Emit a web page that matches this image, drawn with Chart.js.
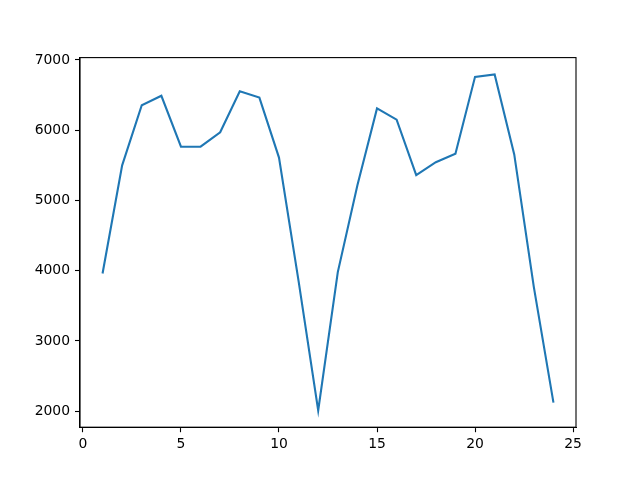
<!DOCTYPE html>
<html>
<head>
<meta charset="utf-8">
<script src="https://cdn.jsdelivr.net/npm/chart.js@4/dist/chart.umd.min.js"></script>
<style>
  html, body { margin: 0; padding: 0; background: #fff; }
</style>
</head>
<body>
<canvas id="chart" width="640" height="480"></canvas>
<script>
// values
const xValues = [1, 2, 3, 4, 5, 6, 7, 8, 9, 10, 11, 12, 13, 14, 15, 16, 17, 18, 19, 20, 21, 22, 23, 24];
const yValues = [3960, 5500, 6355, 6490, 5765, 5765, 5970, 6555, 6465, 5610, 3850, 2010,
                 3980, 5215, 6310, 6150, 5360, 5545, 5665, 6760, 6795, 5655, 3765, 2120];
const xTicks = [0, 5, 10, 15, 20, 25];
const yTicks = [2000, 3000, 4000, 5000, 6000, 7000];

const points = xValues.map((x, i) => ({ x: x, y: yValues[i] }));

// matplotlib-like full frame around the axes
const frame = {
    id: "frame",
    afterDraw(chart) {
        const a = chart.chartArea;
        const ctx = chart.ctx;
        ctx.save();
        ctx.strokeStyle = "#000";
        ctx.lineWidth = 1.1;
        ctx.strokeRect(a.left, a.top, a.right - a.left, a.bottom - a.top);
        ctx.restore();
    }
};

const font = { family: "'DejaVu Sans'", size: 13.9 };

new Chart(document.getElementById("chart").getContext("2d"), {
    type: "line",
    data: {
        datasets: [{
            data: points,
            borderColor: "#1f77b4",
            borderWidth: 2.1,
            pointRadius: 0,
            tension: 0,
            fill: false
        }]
    },
    options: {
        responsive: false,
        animation: false,
        layout: { padding: { left: 0, top: 57.6, right: 64, bottom: 0 } },
        plugins: {
            legend: { display: false },
            tooltip: { enabled: false }
        },
        scales: {
            x: {
                type: "linear",
                min: -0.15,
                max: 25.15,
                afterBuildTicks: s => { s.ticks = xTicks.map(v => ({ value: v })); },
                afterFit: s => { s.height = 52.8; },
                grid: { drawOnChartArea: false, drawTicks: true, tickLength: 5, tickColor: "#000", tickWidth: 1.1 },
                border: { display: true, color: "#000", width: 1.1 },
                ticks: { color: "#000", font: font, padding: 4, maxRotation: 0, callback: v => String(v) }
            },
            y: {
                type: "linear",
                min: 1771,
                max: 7034,
                afterBuildTicks: s => { s.ticks = yTicks.map(v => ({ value: v })); },
                afterFit: s => { s.width = 80; },
                grid: { drawOnChartArea: false, drawTicks: true, tickLength: 5, tickColor: "#000", tickWidth: 1.1 },
                border: { display: true, color: "#000", width: 1.1 },
                ticks: { color: "#000", font: font, padding: 5, callback: v => String(v) }
            }
        }
    },
    plugins: [frame]
});
</script>
</body>
</html>
